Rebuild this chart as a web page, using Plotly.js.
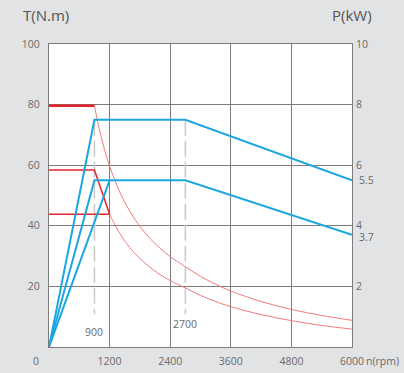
<!DOCTYPE html>
<html>
<head>
<meta charset="utf-8">
<script src="https://cdn.plot.ly/plotly-3.0.1.min.js"></script>
<style>
html,body{margin:0;padding:0;background:#e2e3e5;}
#chart{width:404px;height:373px;}
</style>
</head>
<body>
<div id="chart"></div>
<script>
// ---- data ----
// speed ticks (rpm)
const speedTicks = [1200, 2400, 3600, 4800, 6000];
const torqueTicks = [20, 40, 60, 80, 100];
const powerTicks = [2, 4, 6, 8, 10];
const powerExtraTicks = [5.5, 3.7];

// torque limit lines (N.m)
const redTopX = [0, 900];
const redTopY = [79.6, 79.6];
const redMidX = [0, 900, 1200];
const redMidY = [58.4, 58.4, 43.8];
const redLowX = [0, 1200];
const redLowY = [43.8, 43.8];

// torque curves in the field-weakening range (N.m)
const curveUpperX = [900, 1000, 1100, 1200, 1400, 1600, 1800, 2000, 2200, 2400, 2700, 3000, 3300, 3600, 4200, 4800, 5400, 6000];
const curveUpperY = [79.6, 71.6, 65.1, 59.7, 51.2, 44.8, 39.8, 35.8, 32.6, 29.8, 26.5, 23.3, 20.7, 18.5, 15.0, 12.4, 10.4, 8.8];
const curveLowerX = [1200, 1400, 1600, 1800, 2000, 2200, 2400, 2700, 3000, 3300, 3600, 4200, 4800, 5400, 6000];
const curveLowerY = [43.8, 37.5, 32.8, 29.2, 26.3, 23.9, 21.9, 19.5, 17.0, 15.0, 13.3, 10.7, 8.7, 7.1, 5.9];

// power curves (kW)
const powerHighX = [0, 900, 2700, 6000];
const powerHighY = [0, 7.5, 7.5, 5.5];
const powerMidX = [0, 900, 2700, 6000];
const powerMidY = [0, 5.5, 5.5, 3.7];
const powerRayX = [0, 1200];
const powerRayY = [0, 5.5];

// marked speeds
const markSpeeds = [900, 2700];
const markTop = [75, 75];
const markBottom = [10.8, 10.8];
const markLabels = ['900', '2700'];
const markLabelY = [4.9, 7.5];

// ---- chart ----
const RED = '#e8232b';
const THIN = '#f27a7a';
const BLUE = '#1ba6e0';
const GRID = '#7c7c7c';
const TXT = '#6a6a6a';
const FONT = 'Open Sans, Noto Sans, sans-serif';

const traces = [];
markSpeeds.forEach((s, i) => {
  traces.push({x: [s, s], y: [markTop[i], markBottom[i]], mode: 'lines', yaxis: 'y',
    line: {color: '#c9c9c9', width: 1.5, dash: '16px,5px'}, hoverinfo: 'skip'});
});
traces.push({x: curveUpperX, y: curveUpperY, mode: 'lines', line: {color: THIN, width: 1, shape: 'spline'}, hoverinfo: 'skip'});
traces.push({x: curveLowerX, y: curveLowerY, mode: 'lines', line: {color: THIN, width: 1, shape: 'spline'}, hoverinfo: 'skip'});
traces.push({x: redTopX, y: redTopY, mode: 'lines', line: {color: RED, width: 2.5}, hoverinfo: 'skip'});
traces.push({x: redMidX, y: redMidY, mode: 'lines', line: {color: RED, width: 1.5}, hoverinfo: 'skip'});
traces.push({x: redLowX, y: redLowY, mode: 'lines', line: {color: RED, width: 1.5}, hoverinfo: 'skip'});
traces.push({x: powerHighX, y: powerHighY, yaxis: 'y2', mode: 'lines', line: {color: BLUE, width: 2}, hoverinfo: 'skip'});
traces.push({x: powerMidX, y: powerMidY, yaxis: 'y2', mode: 'lines', line: {color: BLUE, width: 2}, hoverinfo: 'skip'});
traces.push({x: powerRayX, y: powerRayY, yaxis: 'y2', mode: 'lines', line: {color: BLUE, width: 2}, hoverinfo: 'skip'});

const annotations = [];
markSpeeds.forEach((s, i) => {
  annotations.push({x: s, y: markLabelY[i], xref: 'x', yref: 'y', text: markLabels[i], showarrow: false,
    font: {family: FONT, size: 10.5, color: TXT}, xanchor: 'center', yanchor: 'middle'});
});
powerExtraTicks.forEach((v, i) => {
  annotations.push({x: 1, y: v, xref: 'paper', yref: 'y2', text: String(v), showarrow: false,
    font: {family: FONT, size: 10.5, color: TXT}, xanchor: 'left', yanchor: 'middle', xshift: 5, yshift: i === 1 ? -2 : 0});
});
annotations.push({x: -0.0936, y: 1.0945, xref: 'paper', yref: 'paper', text: 'T(N.m)', showarrow: false,
  font: {family: FONT, size: 15, color: '#555'}, xanchor: 'left', yanchor: 'middle'});
annotations.push({x: 1.072, y: 1.0945, xref: 'paper', yref: 'paper', text: 'P(kW)', showarrow: false,
  font: {family: FONT, size: 15, color: '#555'}, xanchor: 'right', yanchor: 'middle'});
annotations.push({x: 1.102, y: -0.047, xref: 'paper', yref: 'paper', text: 'n(rpm)', showarrow: false,
  font: {family: FONT, size: 10.5, color: TXT}, xanchor: 'center', yanchor: 'middle'});
annotations.push({x: -0.042, y: -0.047, xref: 'paper', yref: 'paper', text: '0', showarrow: false,
  font: {family: FONT, size: 10.5, color: TXT}, xanchor: 'center', yanchor: 'middle'});

const layout = {
  width: 404, height: 373,
  margin: {l: 49, r: 52, t: 44, b: 26, pad: 0},
  paper_bgcolor: '#e2e3e5',
  plot_bgcolor: '#ffffff',
  showlegend: false,
  font: {family: FONT, size: 10.5, color: TXT},
  xaxis: {range: [0, 6000], tickvals: speedTicks, ticktext: speedTicks.map(String), showgrid: true,
    gridcolor: GRID, gridwidth: 1.2, zeroline: false, showline: true, mirror: true, linecolor: GRID, linewidth: 1.2,
    ticks: '', tickfont: {family: FONT, size: 10.5, color: TXT}, ticklabelstandoff: 4, fixedrange: true},
  yaxis: {range: [0, 100], tickvals: torqueTicks, ticktext: torqueTicks.map(String), showgrid: true,
    gridcolor: GRID, gridwidth: 1.2, zeroline: false, showline: true, mirror: true, linecolor: GRID, linewidth: 1.2,
    ticks: '', tickfont: {family: FONT, size: 10.5, color: TXT}, ticklabelstandoff: 6, fixedrange: true},
  yaxis2: {range: [0, 10], overlaying: 'y', side: 'right', tickvals: powerTicks, ticktext: powerTicks.map(String),
    showgrid: false, zeroline: false, showline: false, ticks: '', tickfont: {family: FONT, size: 10.5, color: TXT},
    ticklabelstandoff: 3, fixedrange: true},
  annotations: annotations
};

Plotly.newPlot('chart', traces, layout, {displayModeBar: false, staticPlot: true});
</script>
</body>
</html>
